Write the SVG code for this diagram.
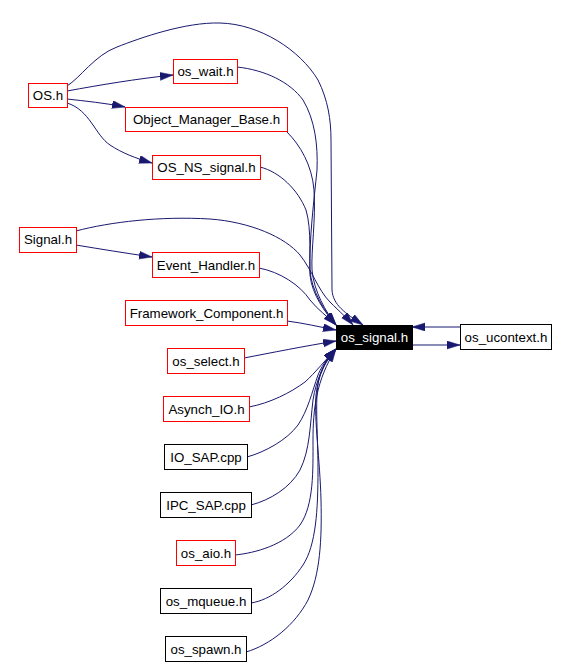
<svg xmlns="http://www.w3.org/2000/svg" width="568" height="667" viewBox="0 0 568 667">
<style>
.n rect{fill:#ffffff;stroke:#ff0000;stroke-width:1}
.n.b rect{stroke:#000000}
.n.cur rect{fill:#000000;stroke:#000000}
.n text{font-family:"Liberation Sans",Arial,sans-serif;font-size:13.3px;fill:#000000;text-anchor:middle}
.n.cur text{fill:#ffffff}
#edges path{fill:none;stroke:#191970;stroke-width:1;marker-end:url(#ah)}
</style>
<defs>
<marker id="ah" markerUnits="userSpaceOnUse" markerWidth="15" markerHeight="10" refX="13" refY="4" orient="auto">
<path d="M0,0 L13,4 L0,8 z" fill="#191970" stroke="#191970" stroke-width="0.5"/>
</marker>
</defs>
<rect x="0" y="0" width="568" height="667" fill="#ffffff"/>
<g id="edges">
<path d="M67,91 C100,85 135,79 173,75"/>
<path d="M67,99 C85,101 105,103 125,107"/>
<path d="M67,103 C90,110 95,135 110,145 C122,153 135,158 152,163"/>
<path d="M67,86 C80,78 95,55 117,47 C140,38 185,22 220,23 C260,24 300,50 318,80 C328,100 331,120 331,140 L332,290 C333,305 345,313 363,325"/>
<path d="M76,231 C110,222 160,216 210,219 C250,222 285,237 300,255 C312,270 318,290 330,302 C340,312 347,318 353,325"/>
<path d="M76,245 C100,249 125,253 152,257"/>
<path d="M237,67 C265,70 290,82 303,100 C315,120 318,145 317,170 C314,200 309,240 310,270 C311,290 325,312 336,325"/>
<path d="M287,132 C300,145 312,165 314,190 C316,220 311,250 312,270 C314,292 326,312 336,325"/>
<path d="M260,167 C280,172 298,190 306,210 C312,230 309,260 310,275 C312,295 325,312 336,325"/>
<path d="M259,268 C280,272 300,285 310,300 C318,310 327,316 336,325"/>
<path d="M287,321 C303,323 320,327 336,330"/>
<path d="M244,358 C270,353 305,346 336,341"/>
<path d="M249,407 C270,403 290,393 305,382 C315,373 327,358 336,349"/>
<path d="M247,457 C265,452 287,440 298,425 C308,410 312,392 318,375 C323,363 330,355 336,349"/>
<path d="M251,505 C270,500 290,488 300,470 C310,450 310,425 313,400 C316,380 325,360 336,349"/>
<path d="M235,555 C255,553 285,545 300,525 C314,505 313,470 313,440 C313,410 316,380 336,349"/>
<path d="M251,603 C270,600 290,585 303,565 C316,545 318,510 318,470 C318,430 314,395 320,375 C324,363 330,355 336,349"/>
<path d="M246,652 C270,645 295,625 308,600 C320,575 322,540 321,500 C320,460 314,420 316,395 C318,375 326,360 336,349"/>
<path d="M460,327 L412,327"/>
<path d="M412,345 L460,345"/>
</g>
<g id="n_os_h" class="n"><rect x="28.5" y="83.5" width="39" height="24"/><text x="48" y="100">OS.h</text></g>
<g id="n_os_wait" class="n"><rect x="173.5" y="59.5" width="64" height="24"/><text x="205.5" y="76">os_wait.h</text></g>
<g id="n_object_manager_base" class="n"><rect x="125.5" y="107.5" width="162" height="24"/><text x="206.5" y="124">Object_Manager_Base.h</text></g>
<g id="n_os_ns_signal" class="n"><rect x="152.5" y="155.5" width="108" height="24"/><text x="206.5" y="172">OS_NS_signal.h</text></g>
<g id="n_signal_h" class="n"><rect x="19.5" y="227.5" width="57" height="25"/><text x="48" y="244">Signal.h</text></g>
<g id="n_event_handler" class="n"><rect x="152.5" y="252.5" width="107" height="25"/><text x="206" y="270">Event_Handler.h</text></g>
<g id="n_framework_component" class="n"><rect x="125.5" y="300.5" width="162" height="25"/><text x="206.5" y="318">Framework_Component.h</text></g>
<g id="n_os_select" class="n"><rect x="167.5" y="348.5" width="77" height="25"/><text x="206" y="366">os_select.h</text></g>
<g id="n_asynch_io" class="n"><rect x="163.5" y="396.5" width="86" height="25"/><text x="206.5" y="414">Asynch_IO.h</text></g>
<g id="n_io_sap" class="n b"><rect x="164.5" y="444.5" width="83" height="25"/><text x="206" y="462">IO_SAP.cpp</text></g>
<g id="n_ipc_sap" class="n b"><rect x="160.5" y="492.5" width="91" height="25"/><text x="206" y="510">IPC_SAP.cpp</text></g>
<g id="n_os_aio" class="n"><rect x="176.5" y="540.5" width="59" height="25"/><text x="206" y="558">os_aio.h</text></g>
<g id="n_os_mqueue" class="n b"><rect x="160.5" y="588.5" width="91" height="25"/><text x="206" y="606">os_mqueue.h</text></g>
<g id="n_os_spawn" class="n b"><rect x="165.5" y="636.5" width="81" height="25"/><text x="206" y="654">os_spawn.h</text></g>
<g id="n_os_signal" class="n cur"><rect x="336.5" y="325.5" width="76" height="24"/><text x="374.5" y="342">os_signal.h</text></g>
<g id="n_os_ucontext" class="n b"><rect x="460.5" y="324.5" width="91" height="25"/><text x="506" y="342">os_ucontext.h</text></g>
</svg>
